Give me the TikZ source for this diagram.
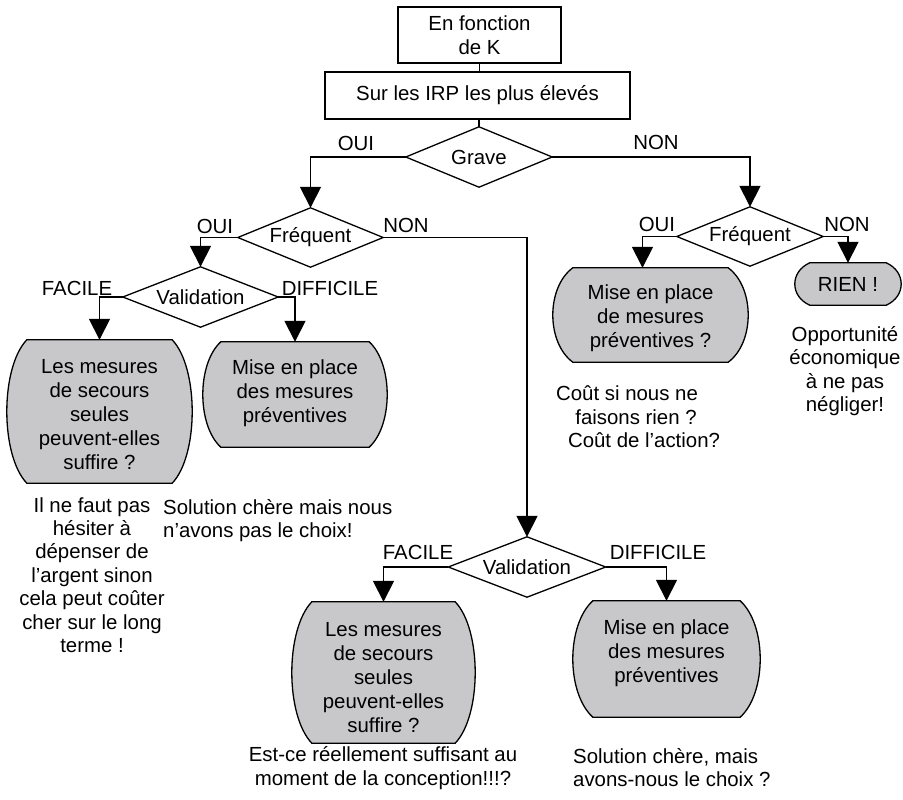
\documentclass[tikz,border=0pt]{standalone}
\usepackage{fontspec}
\setmainfont{Liberation Sans}
\usetikzlibrary{arrows.meta,backgrounds,calc}
\definecolor{boxgray}{RGB}{200,200,202}
\begin{document}
\begin{tikzpicture}[x=1pt,y=-1pt,
  every node/.style={font=\fontsize{20.4}{24}\selectfont, inner sep=0pt},
  plainbox/.style={draw, line width=1.3pt, rectangle, align=center},
  decision/.style={rectangle, align=center},
  endbox/.style={rectangle, align=center},
  boxtext/.style={align=center},
  note/.style={align=center, font=\fontsize{20.4}{23.4}\selectfont},
  leftnote/.style={align=left, anchor=west, font=\fontsize{20.4}{23}\selectfont},
  link/.style={line width=1.6pt},
  flow/.style={line width=1.6pt, -{Triangle[length=21pt,width=21pt]}},
]
\useasboundingbox (0,0) rectangle (903,800);

% top boxes
\node[plainbox, minimum width=163pt, minimum height=56pt] (k) at (479.5,35) {En fonction\\de K};
\node[plainbox, minimum width=305pt, minimum height=47pt] (irp) at (477.5,95.5) {Sur les IRP les plus élevés};

% decisions (diamond outlines drawn below)
\node[decision, minimum width=146pt, minimum height=60pt] (grave) at (479,157) {Grave};
\node[decision, minimum width=145pt, minimum height=59pt] (f1) at (310.5,237.5) {Fréquent};
\node[decision, minimum width=146pt, minimum height=59pt] (f2) at (750,236.5) {Fréquent};
\node[decision, minimum width=155pt, minimum height=60pt] (v1) at (200.5,297) {Validation};
\node[decision, minimum width=157pt, minimum height=60pt] (v2) at (527,567) {Validation};

% grey outcome boxes (outline drawn on the background layer)
\node[endbox, minimum width=185pt, minimum height=143pt] (b1) at (99.5,411.5) {};
\node[endbox, minimum width=184pt, minimum height=105pt] (b2) at (295,394.5) {};
\node[endbox, minimum width=195pt, minimum height=94pt] (b3) at (650.5,315) {};
\node[endbox, minimum width=106pt, minimum height=42pt] (b4) at (848,284) {};
\node[endbox, minimum width=183pt, minimum height=141pt] (b5) at (383.5,672.5) {};
\node[endbox, minimum width=187pt, minimum height=116pt] (b6) at (666.5,659) {};

\node[boxtext] (b1t) at ([yshift=-3pt]b1.center) {Les mesures\\de secours\\seules\\peuvent-elles\\suffire ?};
\node[boxtext] (b2t) at ([yshift=1pt]b2.center) {Mise en place\\des mesures\\préventives};
\node[boxtext] (b3t) at ([yshift=-3pt]b3.center) {Mise en place\\de mesures\\préventives ?};
\node[boxtext] (b4t) at (b4.center) {RIEN !};
\node[boxtext] (b5t) at ([yshift=-5pt]b5.center) {Les mesures\\de secours\\seules\\peuvent-elles\\suffire ?};
\node[boxtext] (b6t) at ([yshift=6pt]b6.center) {Mise en place\\des mesures\\préventives};

% branch labels
\node (lg1) at (356,143) {OUI};
\node (lg2) at (656,142) {NON};
\node (lf1) at (215,226) {OUI};
\node (lf2) at (406,225) {NON};
\node (lf3) at (657,224) {OUI};
\node (lf4) at (847,224) {NON};
\node (lv1) at (77,288) {FACILE};
\node (lv2) at (330,288) {DIFFICILE};
\node (lv3) at (418,552) {FACILE};
\node (lv4) at (658,552) {DIFFICILE};

% comments
\node[note] (n1) at (92,575) {Il ne faut pas\\hésiter à\\dépenser de\\l’argent sinon\\cela peut coûter\\cher sur le long\\terme !};
\node[leftnote] (n2) at (163,521) {Solution chère mais nous\\n’avons pas le choix!};
\node[note] (n3) at (636,417) {Coût si nous ne\hspace*{18pt}\\faisons rien ?\\\hspace*{16pt}Coût de l’action?};
\node[note] (n4) at (845,371) {Opportunité\\économique\\à ne pas\\négliger!};
\node[note] (n5) at (383,768) {Est-ce réellement suffisant au\\moment de la conception!!!?};
\node[leftnote] (n6) at (573,768) {Solution chère, mais\\avons-nous le choix ?};

% diamonds
\foreach \d in {grave,f1,f2,v1,v2}
  \draw[line width=1.3pt] (\d.north) -- (\d.east) -- (\d.south) -- (\d.west) -- cycle;

% barrel-shaped grey boxes: flat top and bottom, bulging sides
\begin{pgfonlayer}{background}
\foreach \b/\i/\h in {b1/20/143,b2/18/105,b3/20/94,b4/15/42,b5/20/141,b6/20/116} {
  \pgfmathsetmacro{\cc}{\i/3}
  \pgfmathsetmacro{\dd}{min(0.21*\h,28)}
  \draw[line width=1.3pt, fill=boxgray]
    ($(\b.north west)+(\i,0)$) -- ($(\b.north east)+(-\i,0)$)
    .. controls ($(\b.north east)+(\cc,\dd)$) and ($(\b.south east)+(\cc,-\dd)$) .. ($(\b.south east)+(-\i,0)$)
    -- ($(\b.south west)+(\i,0)$)
    .. controls ($(\b.south west)+(-\cc,-\dd)$) and ($(\b.north west)+(-\cc,\dd)$) .. cycle;
}
\end{pgfonlayer}

% connectors
\draw[link] (k.south) -- (k.south |- irp.north);
\draw[link] (grave.north |- irp.south) -- (grave.north);
\draw[flow] (grave.west) -| (f1.north);
\draw[flow] (grave.east) -| (f2.north);
\draw[flow] (f1.west) -| (v1.north);
\draw[flow] (f1.east) -| (v2.north);
\draw[flow] (f2.west) -| ([xshift=-8pt]b3.north);
\draw[flow] (f2.east) -| (b4.north);
\draw[flow] (v1.west) -| (b1.north);
\draw[flow] (v1.east) -| (b2.north);
\draw[flow] (v2.west) -| (b5.north);
\draw[flow] (v2.east) -| (b6.north);
\end{tikzpicture}
\end{document}
